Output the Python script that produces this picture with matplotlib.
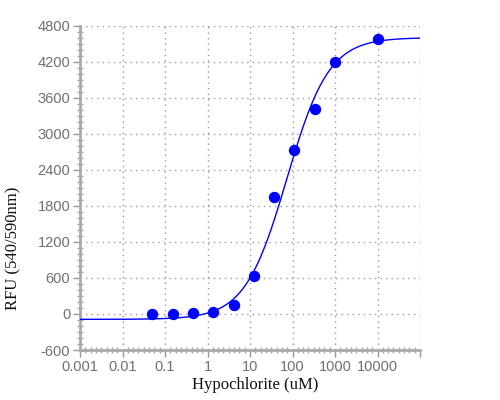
import numpy as np
import matplotlib
matplotlib.use("Agg")
import matplotlib.pyplot as plt
from matplotlib.ticker import FixedLocator, NullFormatter

plt.rcParams["axes.unicode_minus"] = False

# Data
conc_uM = [0.0508, 0.152, 0.457, 1.372, 4.115, 12.35, 37.04, 111.1, 333.3, 1000, 10000]
rfu = [5, 5, 10, 35, 156, 632, 1947, 2729, 3411, 4193, 4582]

# Fitted 4-parameter logistic curve (parameters)
fit_bottom = -90
fit_top = 4600
fit_ec50 = 74
fit_hill = 0.88

x_ticks = [0.001, 0.01, 0.1, 1, 10, 100, 1000, 10000]
x_tick_labels = ["0.001", "0.01", "0.1", "1", "10", "100", "1000", "10000"]
y_ticks = [-600, 0, 600, 1200, 1800, 2400, 3000, 3600, 4200, 4800]

fig = plt.figure(figsize=(5, 4), dpi=100)
ax = fig.add_axes([0.16, 0.125, 0.68, 0.811])

xs = np.logspace(-3, 5, 400)
ys = fit_bottom + (fit_top - fit_bottom) / (1 + (fit_ec50 / xs) ** fit_hill)
ax.plot(xs, ys, color="#0000ff", lw=1.0, zorder=3)
ax.plot(conc_uM, rfu, "o", color="#0000ff", ms=7.2, mec="#0000ff", zorder=4)

ax.set_xscale("log")
ax.set_xlim(0.001, 100000)
ax.set_ylim(-600, 4800)

ax.xaxis.set_major_locator(FixedLocator(x_ticks + [100000]))
ax.set_xticklabels(x_tick_labels + [""])
minor_x = [10 ** (d + k / 8) for d in range(-3, 5) for k in range(1, 8)]
ax.xaxis.set_minor_locator(FixedLocator(minor_x))
ax.xaxis.set_minor_formatter(NullFormatter())

ax.set_yticks(y_ticks)
ax.yaxis.set_minor_locator(FixedLocator(list(range(-600, 4801, 100))))

ax.grid(True, which="major", linestyle=(0, (1, 3)), color="#999999", lw=1.0)
for s in ["top", "right"]:
    ax.spines[s].set_visible(False)
for s in ["left", "bottom"]:
    ax.spines[s].set_color("#aaaaaa")
    ax.spines[s].set_linewidth(2)

ax.tick_params(which="major", direction="out", length=5, width=1, color="#999999",
               labelsize=10.5, labelcolor="#707070", pad=2)
ax.tick_params(which="minor", direction="inout", length=4, width=1, color="#aaaaaa")
for lab in ax.get_xticklabels() + ax.get_yticklabels():
    lab.set_fontfamily("Liberation Sans")

fig.text(255 / 500, 1 - 385 / 400, "Hypochlorite (uM)", ha="center", va="center",
         fontsize=12, family="Liberation Serif", color="#111111")
fig.text(13 / 500, 1 - 248 / 400, "RFU (540/590nm)", ha="center", va="center",
         rotation=90, fontsize=12, family="Liberation Serif", color="#111111")

fig.savefig("out.png", dpi=100)
